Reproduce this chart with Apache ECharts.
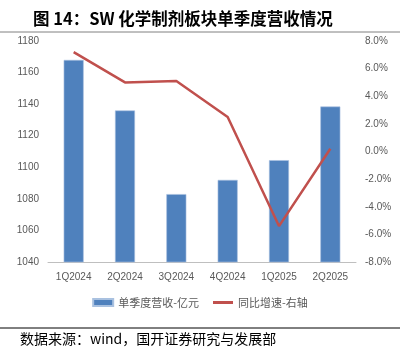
<!DOCTYPE html>
<html><head><meta charset="utf-8">
<script src="https://cdn.jsdelivr.net/npm/echarts@6/dist/echarts.min.js"></script>
<style>html,body{margin:0;padding:0;background:#fff}#c{width:400px;height:358px}</style>
</head><body><div id="c"></div>
<script>
const categories = ['1Q2024','2Q2024','3Q2024','4Q2024','1Q2025','2Q2025'];
const revenue = [1168, 1136, 1083, 1092, 1104.5, 1138.5];
const yoy = [7.2, 5.0, 5.1, 2.5, -5.4, 0.2];
const leftTicks = {min:1040, max:1180, interval:20};
const rightTicks = {min:-8, max:8, interval:2};

const chart = echarts.init(document.getElementById('c'));
const fontCN = '"Noto Sans CJK SC", "Liberation Sans", sans-serif';
const axisFont = '"Liberation Sans", "Noto Sans CJK SC", sans-serif';
chart.setOption({
  animation:false,
  grid:{left:48, right:44, top:41, bottom:96},
  legend:{
    bottom:45, left:'center', itemGap:14, itemWidth:20, itemHeight:7,
    textStyle:{fontFamily:fontCN, fontSize:11, color:'#595959'},
    data:[{name:'单季度营收-亿元', icon:'rect'},
          {name:'同比增速-右轴', icon:'path://M0,0 L20,0 L20,3 L0,3 Z', itemStyle:{color:'#C0504D'}}]
  },
  xAxis:{
    type:'category', data:categories,
    axisLine:{onZero:false, lineStyle:{color:'#BFBFBF'}}, axisTick:{show:false},
    axisLabel:{fontFamily:axisFont, fontSize:10, color:'#595959', margin:10}
  },
  yAxis:[
    {type:'value', min:leftTicks.min, max:leftTicks.max, interval:leftTicks.interval,
     splitLine:{show:false}, axisLine:{show:false}, axisTick:{show:false},
     axisLabel:{fontFamily:axisFont, fontSize:10, color:'#595959', margin:9, formatter:v=>String(v)}},
    {type:'value', min:rightTicks.min, max:rightTicks.max, interval:rightTicks.interval,
     splitLine:{show:false}, axisLine:{show:false}, axisTick:{show:false},
     axisLabel:{fontFamily:axisFont, fontSize:10, color:'#595959', margin:9,
       formatter:v=>v.toFixed(1)+'%'}}
  ],
  series:[
    {name:'单季度营收-亿元', type:'bar', data:revenue, barWidth:20,
     itemStyle:{color:'#4F81BD', borderColor:'#A9C1E0', borderWidth:0.6}},
    {name:'同比增速-右轴', type:'line', yAxisIndex:1, data:yoy, symbol:'none',
     lineStyle:{color:'#C0504D', width:2.5}, itemStyle:{color:'#C0504D'}}
  ],
  graphic:[
    {type:'text', left:33, top:10, style:{text:'图 14：SW 化学制剂板块单季度营收情况', font:'bold 16.5px '+fontCN, fill:'#000'}},
    {type:'line', shape:{x1:0,y1:32,x2:400,y2:32}, style:{stroke:'#808080', lineWidth:1}},
    {type:'line', shape:{x1:0,y1:328,x2:400,y2:328}, style:{stroke:'#000', lineWidth:1}},
    {type:'text', left:20, top:332, style:{text:'数据来源：wind，国开证券研究与发展部', font:'14px '+fontCN, fill:'#000'}}
  ]
});
</script></body></html>
